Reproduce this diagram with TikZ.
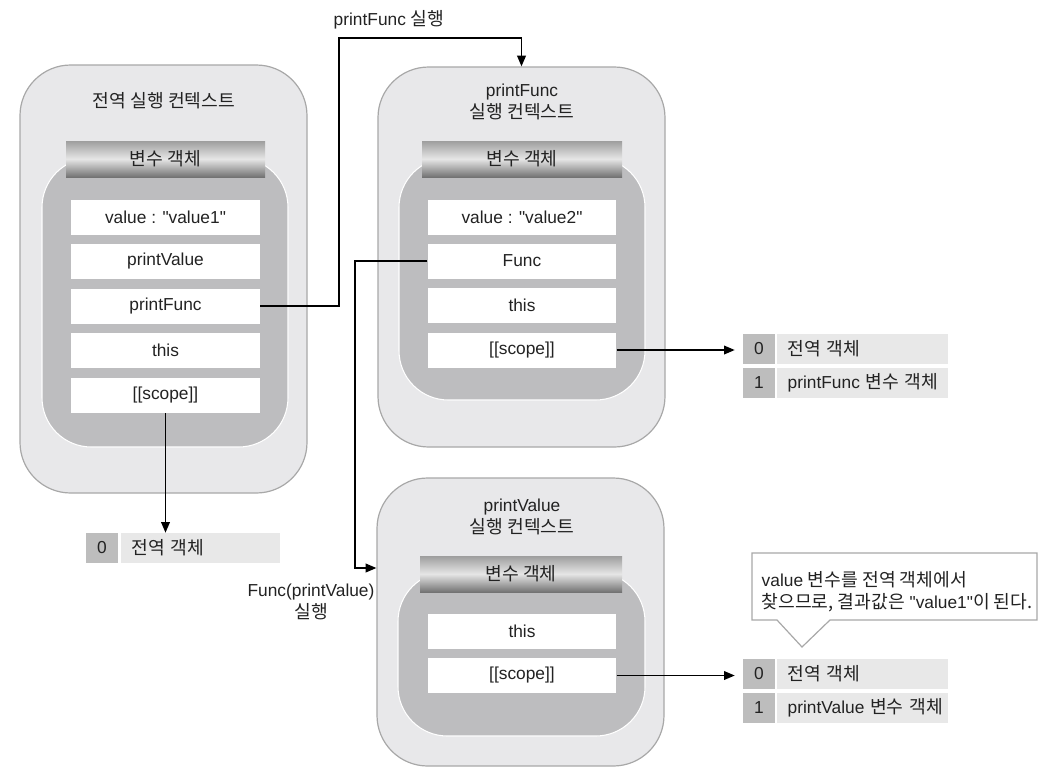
\documentclass[tikz,border=0pt]{standalone}
\usepackage{fontspec}
\setmainfont{Liberation Sans}[Ligatures=TeXOff]
\newfontfamily\kofont{Noto Sans CJK KR}[Scale=1.05,Ligatures=TeXOff]
\newcommand{\ko}[1]{{\kofont #1}}
\usetikzlibrary{arrows.meta,fit}
\definecolor{outerfill}{HTML}{E8E8EA}
\definecolor{outerline}{HTML}{A8A8A8}
\definecolor{innerfill}{HTML}{BDBDBF}
\definecolor{numfill}{HTML}{BDBDBD}
\definecolor{cellfill}{HTML}{E8E8E8}
\definecolor{txt}{HTML}{222222}
\begin{document}
\begin{tikzpicture}[x=0.75pt,y=-0.75pt,
  font=\fontsize{13}{16.5}\selectfont, text=txt,
  outerbox/.style={draw=outerline, fill=outerfill, line width=0.9pt, rounded corners=38pt, inner sep=0pt},
  innerbox/.style={draw=white, fill=innerfill, line width=0.8pt, rounded corners=37pt, inner sep=0pt},
  header/.style={inner sep=0pt, minimum height=27pt, top color=black!38, bottom color=black!55, middle color=black!10},
  row/.style={fill=white, minimum width=141.5pt, minimum height=26.25pt, inner sep=0pt},
  numcell/.style={fill=numfill, minimum width=24pt, minimum height=22pt, inner sep=0pt},
  textcell/.style={fill=cellfill, minimum height=22pt, inner ysep=0pt, inner xsep=8pt, align=left},
  arr/.style={line width=1.1pt, -{Triangle[length=8pt,width=6.5pt]}},
  callout/.style={draw=outerline, fill=white, line width=0.9pt}]
\useasboundingbox (0,0) rectangle (1058,772);

% ---------- global execution context ----------
\node[outerbox, fit={(20,65) (307,493)}] (gec) {};
\node (gtitle) at (164,101) {\ko{전역 실행 컨텍스트}};
\node[innerbox, fit={(42,158) (288,447)}] (gin) {};
\node[header, minimum width=149.25pt] (ghd) at (165.5,159) {\ko{변수 객체}};
\node[row] (gval) at (165.5,217.5) {value : "value1"};
\node[row] (gpv) at (165.5,261.5) {printValue};
\node[row] (gpf) at (165.5,306) {printFunc};
\node[row] (gthis) at (165.5,350.5) {this};
\node[row] (gs) at (165.5,395.5) {[[scope]]};

\node[numcell, minimum width=24pt, minimum height=22.5pt] (gn0) at (102,548) {0};
\node[textcell, text width=103.25pt, minimum height=22.5pt] (gt0) at (200.5,548) {\mbox{\ko{전역 객체}}};

% ---------- printFunc execution context ----------
\node[outerbox, fit={(378,67) (665,447)}] (pfc) {};
\node[align=center] (pftitle) at (522,102) {printFunc\\\ko{실행 컨텍스트}};
\node[innerbox, fit={(399,158) (645,400)}] (pfin) {};
\node[header, minimum width=150pt] (pfhd) at (522,159) {\ko{변수 객체}};
\node[row] (pfval) at (522,217) {value : "value2"};
\node[row] (pff) at (522,261) {Func};
\node[row] (pfthis) at (522,305) {this};
\node[row] (pfs) at (522,350) {[[scope]]};

\node[numcell] (an0) at (759,349) {0};
\node[textcell, text width=112.25pt] (at0) at (862.5,349) {\mbox{\ko{전역 객체}}};
\node[numcell] (an1) at (759,383) {1};
\node[textcell, text width=112.25pt] (at1) at (862.5,383) {\mbox{printFunc \ko{변수 객체}}};

% ---------- printValue execution context ----------
\node[outerbox, fit={(377,478) (664,766)}] (pvc) {};
\node[align=center] (pvtitle) at (522,517) {printValue\\\ko{실행 컨텍스트}};
\node[innerbox, fit={(398,572) (645,736)}] (pvin) {};
\node[header, minimum width=151.5pt] (pvhd) at (521,574) {\ko{변수 객체}};
\node[row] (pvthis) at (522,631.5) {this};
\node[row] (pvs) at (522,675.5) {[[scope]]};

\node[numcell] (bn0) at (759,674) {0};
\node[textcell, text width=112.25pt] (bt0) at (862.5,674) {\mbox{\ko{전역 객체}}};
\node[numcell] (bn1) at (759,708) {1};
\node[textcell, text width=112.25pt] (bt1) at (862.5,708) {\mbox{printValue \ko{변수 객체}}};

% ---------- callout ----------
\draw[callout] (752,553) -- (1037,553) -- (1037,620) -- (830,620) -- (802,647) -- (777,620) -- (752,620) -- cycle;
\node[anchor=west, align=left] (note) at (757,592) {value \ko{변수를 전역 객체에서}\\\ko{찾으므로, 결과값은} "value1"\ko{이 된다.}};

% ---------- labels ----------
\node (lab1) at (389,20) {printFunc \ko{실행}};
\node[align=center] (lab2) at (311,602) {Func(printValue)\\\ko{실행}};

% ---------- connectors ----------
\coordinate (c1) at (339,38);
\draw[arr] (gpf.east) -| (c1) -| (pfc.north);
\draw[arr] (gs.south) -- (gs.south |- gt0.north);
\draw[arr, shorten >=6pt] (pfs.east) -- (pfs.east -| an0.west);
\draw[arr, shorten >=6pt] (pvs.east) -- (pvs.east -| bn0.west);
\coordinate (fv) at (355,568);
\draw[arr] (pff.west) -| (fv) -- (fv -| pvc.west);
\end{tikzpicture}
\end{document}
